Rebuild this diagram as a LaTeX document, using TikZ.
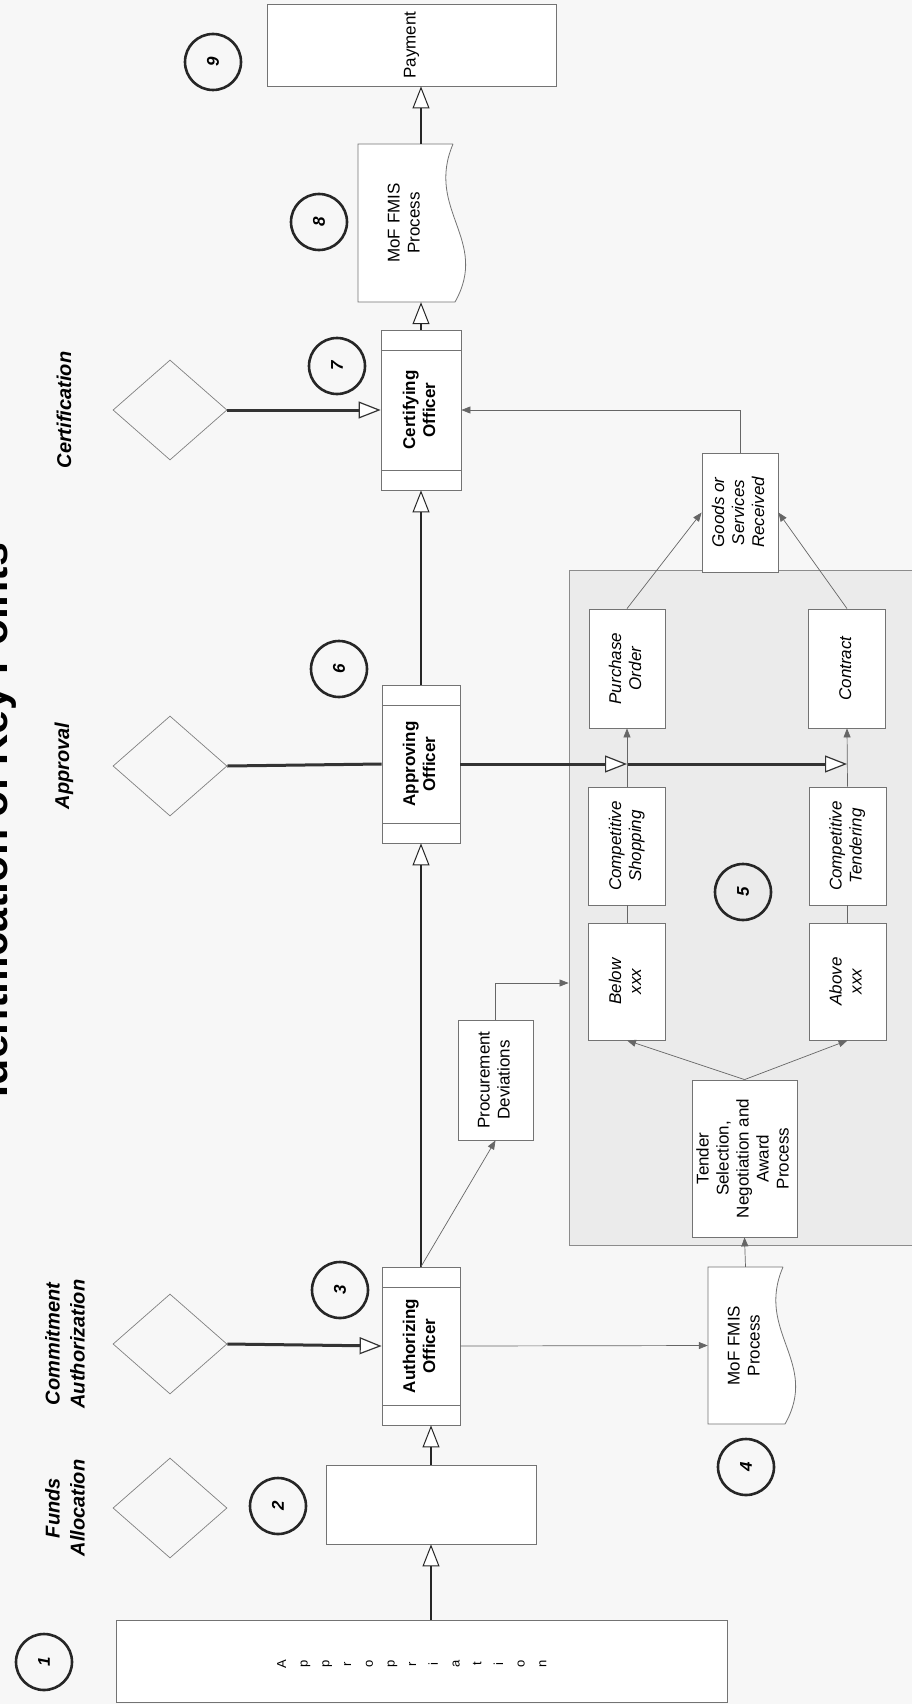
\documentclass[tikz,border=0pt]{standalone}
\usepackage{fontspec}
\setmainfont{Liberation Sans}
\usepackage{graphicx}
\usetikzlibrary{arrows.meta,shapes.geometric}

\newcommand{\vtxt}[1]{\rotatebox{90}{\begin{tabular}{@{}c@{}}#1\end{tabular}}}

\tikzset{
  boxline/.style={draw=black!55, line width=0.8pt},
  box/.style={boxline, fill=white, inner sep=0pt, font=\fontsize{17}{20}\selectfont},
  pbox/.style={box, font=\fontsize{17}{20}\selectfont\itshape},
  officer/.style={box, font=\fontsize{17}{20}\selectfont\bfseries,
    path picture={
      \draw[boxline] ([yshift=-20pt]path picture bounding box.north west) -- ([yshift=-20pt]path picture bounding box.north east);
      \draw[boxline] ([yshift=20pt]path picture bounding box.south west) -- ([yshift=20pt]path picture bounding box.south east);
    }},
  doc/.style={inner sep=0pt, font=\fontsize{17}{20}\selectfont},
  region/.style={draw=black!45, line width=0.8pt, fill=black!8, inner sep=0pt},
  gate/.style={diamond, draw=black!50, line width=0.7pt, minimum width=114pt, minimum height=100pt, inner sep=0pt},
  stage/.style={rotate=90, align=center, font=\fontsize{20}{25}\selectfont\bfseries\itshape},
  keypt/.style={circle, draw=black!85, line width=2.6pt, minimum size=56pt, inner sep=0pt, rotate=90,
    font=\fontsize{17}{20}\selectfont\bfseries\itshape},
  flow/.style={draw=black!85, line width=1.6pt, -{Triangle[fill=white, line width=1pt, length=22pt, width=17pt]}},
  feed/.style={draw=black!80, line width=3pt, -{Triangle[fill=white, line width=1.2pt, length=22pt, width=17pt]}},
  link/.style={draw=black!60, line width=0.7pt, -{Triangle[length=9pt, width=7pt]}},
  tie/.style={draw=black!60, line width=0.7pt}
}

\begin{document}
\begin{tikzpicture}[x=1pt,y=-1pt]
  \useasboundingbox (0,0) rectangle (912,1704);
  \clip (0,0) rectangle (912,1704);
  \fill[black!3] (0,0) rectangle (912,1704);

  % title and stages
  \node[rotate=90, anchor=base, font=\fontsize{43}{50}\selectfont\bfseries] (title) at (8,820) {Identification of Key Points};
  \node[stage] (lfund) at (65,1508) {Funds\\Allocation};
  \node[stage] (lcom) at (65,1344) {Commitment\\Authorization};
  \node[stage] (lapp) at (64,766) {Approval};
  \node[stage] (lcert) at (64,410) {Certification};

  \node[gate] (dfund) at (170,1508) {};
  \node[gate] (dcom) at (170,1344) {};
  \node[gate] (dapp) at (170,766) {};
  \node[gate] (dcert) at (170,410) {};

  % procurement area
  \node[region, minimum width=346pt, minimum height=675pt] (proc) at (742,907.5) {};
  \node[pbox, minimum width=76pt, minimum height=119pt] (goods) at (740,512.5) {\vtxt{Goods or\\Services\\Received}};
  \node[pbox, minimum width=76pt, minimum height=119pt] (po) at (627,668.5) {\vtxt{Purchase\\Order}};
  \node[pbox, minimum width=77pt, minimum height=119pt] (contract) at (847,668.5) {\vtxt{Contract}};
  \node[pbox, minimum width=77pt, minimum height=118pt] (shop) at (627,846) {\vtxt{Competitive\\Shopping}};
  \node[pbox, minimum width=77pt, minimum height=118pt] (tend) at (847.5,846) {\vtxt{Competitive\\Tendering}};
  \node[pbox, minimum width=77pt, minimum height=117pt] (below) at (627,981.5) {\vtxt{Below\\xxx}};
  \node[pbox, minimum width=77pt, minimum height=117pt] (above) at (847.5,981.5) {\vtxt{Above\\xxx}};
  \node[box, minimum width=105pt, minimum height=157pt] (tender) at (744.5,1158.5) {\vtxt{Tender\\Selection,\\Negotiation and\\Award\\Process}};
  \node[box, minimum width=75pt, minimum height=120pt] (pd) at (495.5,1080) {\vtxt{Procurement\\Deviations}};

  % main column
  \node[box, minimum width=289pt, minimum height=82pt] (pay) at (411.5,45) {\vtxt{Payment}};
  \draw[boxline, fill=white] (453,144) -- (358,144) -- (358,302) -- (455,302) .. controls (490,240) and (425,210) .. (453,144);
  \node[doc, minimum width=95pt, minimum height=158pt] (mof8) at (405.5,223) {\vtxt{MoF FMIS\\Process}};
  \node[officer, minimum width=80pt, minimum height=160pt] (cert) at (421,410) {\vtxt{Certifying\\Officer}};
  \node[officer, minimum width=78pt, minimum height=158pt] (appr) at (421,764) {\vtxt{Approving\\Officer}};
  \node[officer, minimum width=78pt, minimum height=158pt] (auth) at (421,1346) {\vtxt{Authorizing\\Officer}};
  \draw[boxline, fill=white] (783,1267) -- (708,1267) -- (708,1424) -- (785,1424) .. controls (820,1362) and (755,1332) .. (783,1267);
  \node[doc, minimum width=75pt, minimum height=157pt] (mof4) at (745.5,1345.5) {\vtxt{MoF FMIS\\Process}};
  \node[box, minimum width=210pt, minimum height=79pt] (box2) at (431,1504.5) {};
  \node[box, minimum width=611pt, minimum height=82pt] (approp) at (421.5,1661) {};
  \foreach \ch [count=\i from 0] in {A,p,p,r,o,p,r,i,a,t,i,o,n}
    \node[rotate=90, inner sep=0pt, text height=9pt, text depth=3pt, font=\fontsize{13}{15}\selectfont] (ap\i) at (283+21.7*\i,1664) {\ch};

  % key points
  \node[keypt] (k1) at (44,1662) {1};
  \node[keypt] (k2) at (278,1506) {2};
  \node[keypt] (k3) at (340,1290) {3};
  \node[keypt] (k4) at (746,1467) {4};
  \node[keypt] (k5) at (743,892) {5};
  \node[keypt] (k6) at (339,669) {6};
  \node[keypt] (k7) at (337,366) {7};
  \node[keypt] (k8) at (319,222) {8};
  \node[keypt] (k9) at (213,62) {9};

  % main flow
  \draw[flow] (approp.north -| box2) -- (box2.south);
  \draw[flow] (box2.north) -- (box2.north |- auth.south);
  \draw[flow] (auth.north) -- (appr.south);
  \draw[flow] (appr.north) -- (cert.south);
  \draw[flow] (cert.north) -- (cert.north |- mof8.south);
  \draw[flow] (mof8.north -| cert) -- (pay.south -| cert);

  % stage feeds
  \coordinate (j1) at (po.south |- appr.east);
  \coordinate (j2) at (contract.south |- appr.east);
  \draw[feed] (dcert.east) -- (cert.west);
  \draw[feed] (dcom.east) -- (auth.west);
  \draw[draw=black!80, line width=3pt] (dapp.east) -- (appr.west);
  \draw[feed] (appr.east) -- (j1);
  \draw[feed] (j1) -- (j2);

  % procurement links
  \coordinate (pdin) at (proc.west |- 0,983);
  \draw[link] (auth.north) -- (pd.south);
  \draw[link] (pd.north) |- (pdin);
  \draw[link] (auth.east) -- (mof4.west);
  \draw[link] (mof4.north) -- (tender.south);
  \draw[link] (tender.north) -- (below.south);
  \draw[link] (tender.north) -- (above.south);
  \draw[tie] (below.north) -- (shop.south);
  \draw[tie] (above.north) -- (tend.south);
  \draw[link] (shop.north) -- (po.south);
  \draw[link] (tend.north) -- (contract.south);
  \draw[link] (po.north) -- (goods.west);
  \draw[link] (contract.north) -- (goods.east);
  \draw[link] (goods.north) |- (cert.east);
\end{tikzpicture}
\end{document}
